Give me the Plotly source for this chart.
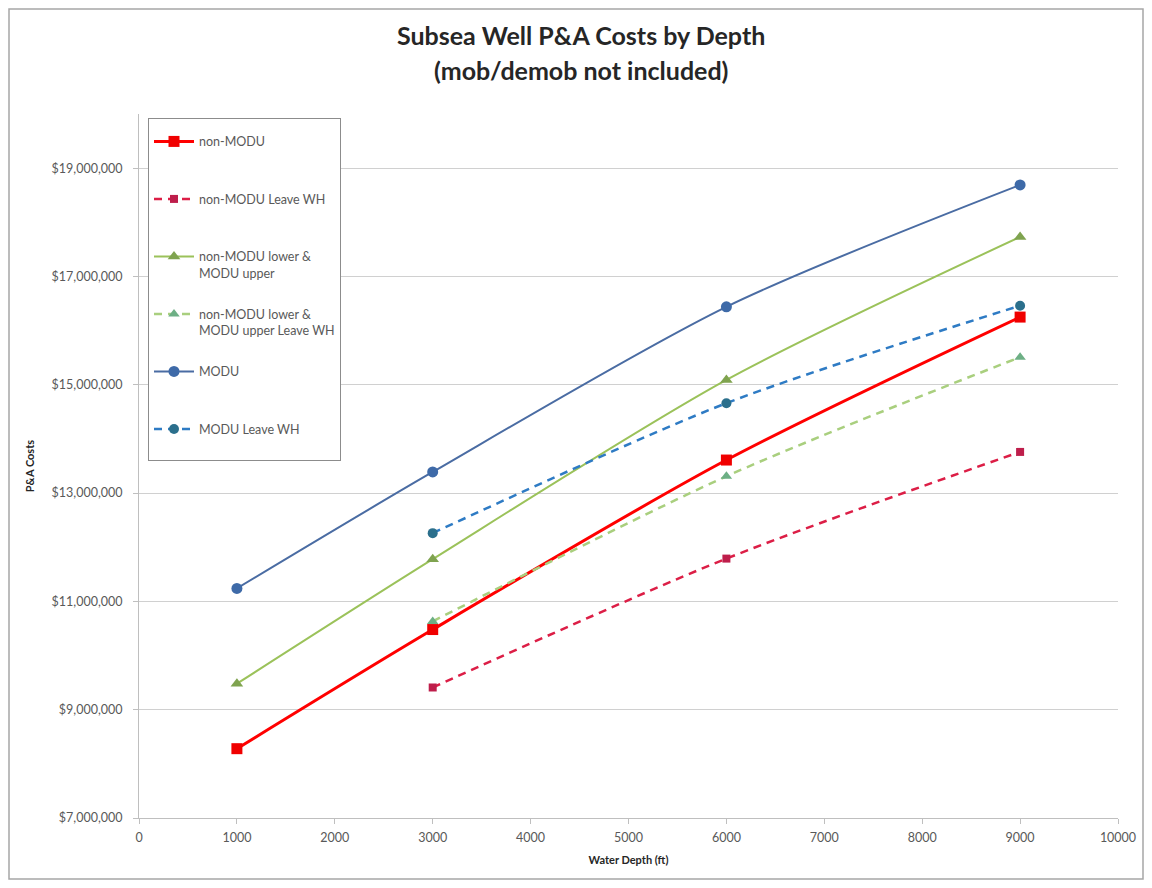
import plotly.graph_objects as go

# ---- data ----
depth_all = [1000, 3000, 6000, 9000]
depth_leave = [3000, 6000, 9000]

non_modu = [8.28e6, 10.48e6, 13.61e6, 16.25e6]
non_modu_leave = [9.41e6, 11.79e6, 13.76e6]
lower_upper = [9.48e6, 11.78e6, 15.09e6, 17.73e6]
lower_upper_leave = [10.63e6, 13.31e6, 15.51e6]
modu = [11.24e6, 13.39e6, 16.44e6, 18.69e6]
modu_leave = [12.26e6, 14.66e6, 16.46e6]

series_names = [
    "non-MODU",
    "non-MODU Leave WH",
    "non-MODU lower &<br>MODU upper",
    "non-MODU lower &<br>MODU upper Leave WH",
    "MODU",
    "MODU Leave WH",
]

y_ticks = [7e6, 9e6, 11e6, 13e6, 15e6, 17e6, 19e6]
x_ticks = list(range(0, 10001, 1000))

# ---- styles ----
styles = [
    dict(x=depth_all, y=non_modu, lc="#FF0000", mc="#F00000", w=3, dash="solid", sym="square", ms=11),
    dict(x=depth_leave, y=non_modu_leave, lc="#DC1E46", mc="#BE1E4B", w=2.5, dash="8px,6px", sym="square", ms=8),
    dict(x=depth_all, y=lower_upper, lc="#9BC25A", mc="#7FA34F", w=2, dash="solid", sym="triangle-up", ms=11),
    dict(x=depth_leave, y=lower_upper_leave, lc="#A9CF7E", mc="#6DAF85", w=2.5, dash="8px,6px", sym="triangle-up", ms=10),
    dict(x=depth_all, y=modu, lc="#4A6CA3", mc="#3E6AA8", w=2, dash="solid", sym="circle", ms=11),
    dict(x=depth_leave, y=modu_leave, lc="#2E7BC4", mc="#2B6F8C", w=2.5, dash="8px,6px", sym="circle", ms=10),
]

fig = go.Figure()
for i, (name, s) in enumerate(zip(series_names, styles)):
    label = name if "<br>" in name else name + "<br>&nbsp;"
    fig.add_trace(go.Scatter(
        x=s["x"], y=s["y"], name=label, legendgroup=f"g{i}",
        mode="lines+markers",
        line=dict(color=s["lc"], width=s["w"], dash=s["dash"], shape="spline", smoothing=0.8),
        marker=dict(color=s["mc"], symbol=s["sym"], size=s["ms"]),
    ))

# page body has an 8px margin; reference pixel p -> figure pixel p - 8
OFF = 8
W, H = 1136, 872
L, T = 139 - OFF, 106
B = H - (818 - OFF)
R = W - (1118 - OFF)
pw, ph = W - L - R, H - T - B

def px_x(p):
    return (p - OFF - L) / pw

def px_y(p):
    return (H - B - (p - OFF)) / ph

fig.update_layout(
    width=W, height=H,
    margin=dict(l=L, r=R, t=T, b=B),
    paper_bgcolor="white", plot_bgcolor="white",
    font=dict(family="Lato, Open Sans, sans-serif", color="#595959"),
    showlegend=True,
    legend=dict(
        x=px_x(148), y=px_y(118), xanchor="left", yanchor="top",
        bgcolor="white", bordercolor="#8C8C8C", borderwidth=1,
        font=dict(size=12.5, color="#595959"),
        title=dict(text="&nbsp;", font=dict(size=6)),
        tracegroupgap=22, itemwidth=40, valign="top",
    ),
    xaxis=dict(
        range=[0, 10000], tickvals=x_ticks, ticktext=[str(v) for v in x_ticks],
        showgrid=False, zeroline=False,
        showline=True, linecolor="#BFBFBF", linewidth=1,
        ticks="outside", ticklen=5, tickcolor="#BFBFBF",
        tickfont=dict(size=12.5, color="#595959"), ticklabelstandoff=3,
        title=dict(text="<b>Water Depth (ft)</b>", font=dict(size=11, color="#262626"), standoff=12),
        automargin=False,
    ),
    yaxis=dict(
        range=[7e6, 20e6], tickvals=y_ticks, tickformat="$,.0f",
        showgrid=True, gridcolor="#D0D0D0", gridwidth=1, zeroline=False,
        showline=True, linecolor="#BFBFBF", linewidth=1,
        ticks="outside", ticklen=5, tickcolor="#BFBFBF",
        tickfont=dict(size=12.5, color="#595959"), ticklabelstandoff=8,
        title=dict(text="<b>P&A Costs</b>", font=dict(size=11, color="#262626"), standoff=14),
        automargin=False,
    ),
    annotations=[
        dict(text="<b>Subsea Well P&A Costs by Depth</b>", xref="paper", yref="paper",
             x=px_x(581), y=px_y(35), xanchor="center", yanchor="middle", showarrow=False,
             font=dict(size=25, color="#262626")),
        dict(text="<b>(mob/demob not included)</b>", xref="paper", yref="paper",
             x=px_x(581), y=px_y(70), xanchor="center", yanchor="middle", showarrow=False,
             font=dict(size=25, color="#262626")),
    ],
    shapes=[
        dict(type="rect", xref="paper", yref="paper",
             x0=px_x(OFF + 1), x1=px_x(OFF + W - 1), y0=px_y(OFF + H - 1), y1=px_y(OFF + 1),
             line=dict(color="#A6A6A6", width=1.5), fillcolor="rgba(0,0,0,0)", layer="below"),
    ],
)

fig.write_html("out.html")
